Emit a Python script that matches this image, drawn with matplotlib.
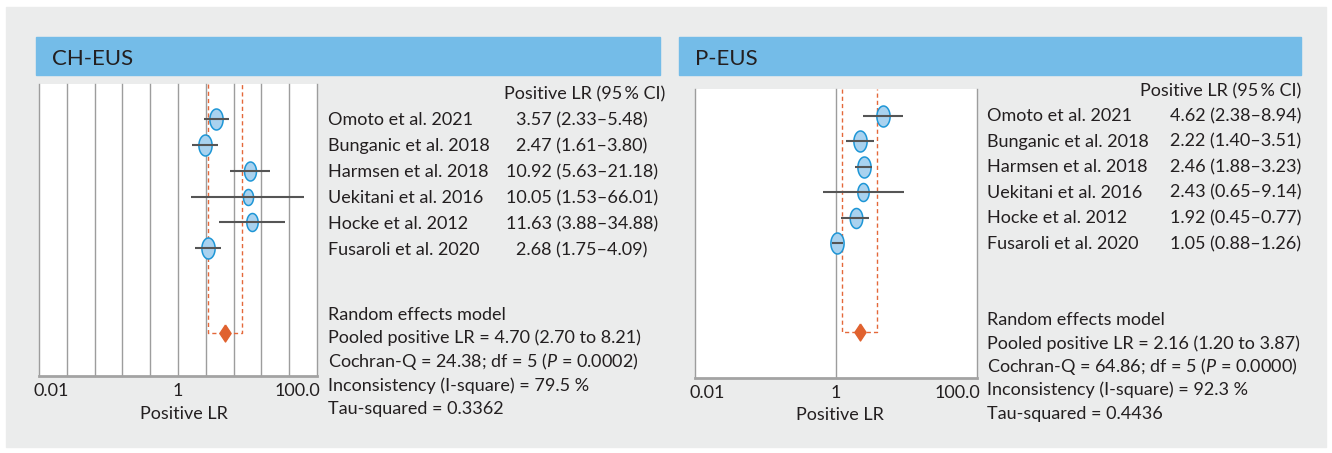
import numpy as np
import matplotlib
matplotlib.use('Agg')
import matplotlib.pyplot as plt
import matplotlib.transforms as mtransforms
from matplotlib.path import Path
from matplotlib.patches import Rectangle

plt.rcParams['font.family'] = ['Lato', 'DejaVu Sans']
plt.rcParams['mathtext.fontset'] = 'custom'
plt.rcParams['mathtext.rm'] = 'Lato'
plt.rcParams['mathtext.it'] = 'Lato:italic'

# ---- data ----
studies = ['Omoto et al. 2021', 'Bunganic et al. 2018', 'Harmsen et al. 2018',
           'Uekitani et al. 2016', 'Hocke et al. 2012', 'Fusaroli et al. 2020']

ch_lr = [3.57, 2.47, 10.92, 10.05, 11.63, 2.68]
ch_lo = [2.33, 1.61, 5.63, 1.53, 3.88, 1.75]
ch_hi = [5.48, 3.80, 21.18, 66.01, 34.88, 4.09]
ch_text = ['3.57 (2.33\u20135.48)', '2.47 (1.61\u20133.80)', '10.92 (5.63\u201321.18)',
           '10.05 (1.53\u201366.01)', '11.63 (3.88\u201334.88)', '2.68 (1.75\u20134.09)']
ch_pooled = [4.70, 2.70, 8.21]
ch_stats = ['Random effects model',
            'Pooled positive LR = 4.70 (2.70 to 8.21)',
            'Cochran-Q = 24.38; df = 5 ($\\mathit{P}$ = 0.0002)',
            'Inconsistency (I-square) = 79.5 %',
            'Tau-squared = 0.3362']

p_lr = [4.62, 2.22, 2.46, 2.43, 1.92, 1.05]
p_lo = [2.38, 1.40, 1.88, 0.65, 1.18, 0.88]   # Hocke CI as drawn in the figure
p_hi = [8.94, 3.51, 3.23, 9.14, 2.95, 1.26]
p_text = ['4.62 (2.38\u20138.94)', '2.22 (1.40\u20133.51)', '2.46 (1.88\u20133.23)',
          '2.43 (0.65\u20139.14)', '1.92 (0.45\u20130.77)', '1.05 (0.88\u20131.26)']
p_pooled = [2.16, 1.20, 3.87]
p_stats = ['Random effects model',
           'Pooled positive LR = 2.16 (1.20 to 3.87)',
           'Cochran-Q = 64.86; df = 5 ($\\mathit{P}$ = 0.0000)',
           'Inconsistency (I-square) = 92.3 %',
           'Tau-squared = 0.4436']

tick_vals = [0.01, 1, 100]
tick_labels = ['0.01', '1', '100.0']

# ---- style ----
W, H = 1332, 453
BG = '#ebecec'
BAR = '#74bce8'
GRID = '#9d9d9d'
ORANGE = '#e4683a'
FACE = '#a9d2ef'
EDGE = '#1e96d6'
CIC = '#555555'
TXT = '#231f20'
FS = 13

ch_msize = [21, 21, 19, 16, 18, 21]
p_msize = [21, 21, 21, 18, 20, 21]

t = np.linspace(0, 2 * np.pi, 80)
ellipse = Path(np.column_stack([0.63 * np.cos(t), np.sin(t)]))
diamond = Path([(0, 1), (0.66, 0), (0, -1), (-0.66, 0), (0, 1)])


def fx(x):
    return x / W


def fy(y):
    return 1 - y / H


fig = plt.figure(figsize=(W / 100, H / 100), dpi=100)
fig.patches.append(Rectangle((fx(6), fy(447)), fx(1320), 440 / H,
                             transform=fig.transFigure, color=BG, zorder=-5))


def panel(rect, title, bar, lr, lo, hi, pooled, msize, grid_all,
          y_top, y_bot, y_diam):
    fig.patches.append(Rectangle((fx(bar[0]), fy(bar[3])), fx(bar[2] - bar[0]),
                                 (bar[3] - bar[1]) / H, transform=fig.transFigure,
                                 color=BAR, zorder=-4))
    fig.text(fx(bar[0] + 16), fy(65), title, fontsize=16, color=TXT)

    ax = fig.add_axes(rect)
    ax.set_facecolor('white')
    ax.set_xscale('log')
    ax.set_xlim(0.01, 100)
    ax.set_ylim(y_bot, y_top)
    for s in ['top', 'left', 'right']:
        ax.spines[s].set_visible(False)
    ax.spines['bottom'].set_color('#a3a3a3')
    ax.spines['bottom'].set_linewidth(2.0)
    ax.spines['bottom'].set_capstyle('projecting')

    if grid_all:
        for g in np.logspace(-2, 2, 11):
            ax.axvline(g, color=GRID, lw=1.0, zorder=1, clip_on=False)
    else:
        for g in [0.01, 1, 100]:
            ax.axvline(g, color=GRID, lw=1.0, zorder=1, clip_on=False)

    rows = np.arange(len(lr))
    for i in rows:
        ax.plot([lo[i], hi[i]], [i, i], color=CIC, lw=1.5, zorder=4,
                solid_capstyle='butt')
        ax.plot(lr[i], i, marker=ellipse, ms=msize[i] * 0.72, mfc=FACE,
                mec=EDGE, mew=1.1, ls='none', zorder=3)

    est, plo, phi = pooled
    ax.plot([plo, plo, phi, phi], [y_top, y_diam, y_diam, y_top], color=ORANGE,
            lw=1.0, ls=(0, (3, 2.2)), zorder=2, clip_on=False)
    ax.plot(est, y_diam, marker=diamond, ms=17 * 0.72, color='#e0622f',
            ls='none', zorder=5)

    ax.set_xticks(tick_vals)
    ax.set_xticklabels(tick_labels)
    ax.minorticks_off()
    ax.tick_params(axis='x', length=0, pad=5, labelsize=FS, labelcolor=TXT)
    ax.set_yticks([])
    labs = ax.get_xticklabels()
    for lab, dx in zip(labs, [12, 0, -20]):
        lab.set_transform(lab.get_transform() +
                          mtransforms.ScaledTranslation(dx / 100, 0, fig.dpi_scale_trans))
    return ax


# left panel: CH-EUS
ax1 = panel([fx(39), fy(376), 278 / W, 292 / H], 'CH-EUS', (36, 37, 660, 75),
            ch_lr, ch_lo, ch_hi, ch_pooled, ch_msize, True, -1.37, 9.96, 8.3)
ax1.text(0.5 + 6 / 278, -(419 - 376) / 292, 'Positive LR', transform=ax1.transAxes,
         ha='center', va='baseline', fontsize=FS, color=TXT)

fig.text(fx(585), fy(99), 'Positive LR (95\u2009% CI)', ha='center', va='baseline',
         fontsize=FS, color=TXT)
for i, (s, v) in enumerate(zip(studies, ch_text)):
    yb = 125 + 26 * i
    fig.text(fx(328), fy(yb), s, ha='left', va='baseline', fontsize=FS, color=TXT)
    fig.text(fx(582), fy(yb), v, ha='center', va='baseline', fontsize=FS, color=TXT)
for i, s in enumerate(ch_stats):
    fig.text(fx(328), fy(320 + 23.5 * i), s, ha='left', va='baseline',
             fontsize=FS, color=TXT)

# right panel: P-EUS
ax2 = panel([fx(695), fy(378), 282 / W, 289 / H], 'P-EUS', (679, 37, 1301, 75),
            p_lr, p_lo, p_hi, p_pooled, p_msize, False, -1.06, 10.31, 8.5)
ax2.text(0.5 + 4 / 282, -(420 - 378) / 289, 'Positive LR', transform=ax2.transAxes,
         ha='center', va='baseline', fontsize=FS, color=TXT)

fig.text(fx(1301), fy(96), 'Positive LR (95\u2009% CI)', ha='right', va='baseline',
         fontsize=FS, color=TXT)
for i, (s, v) in enumerate(zip(studies, p_text)):
    yb = 121 + 25.6 * i
    fig.text(fx(987), fy(yb), s, ha='left', va='baseline', fontsize=FS, color=TXT)
    fig.text(fx(1301), fy(yb), v, ha='right', va='baseline', fontsize=FS, color=TXT)
for i, s in enumerate(p_stats):
    fig.text(fx(987), fy(325 + 23.5 * i), s, ha='left', va='baseline',
             fontsize=FS, color=TXT)

fig.savefig('out.png', dpi=100, facecolor='white')
